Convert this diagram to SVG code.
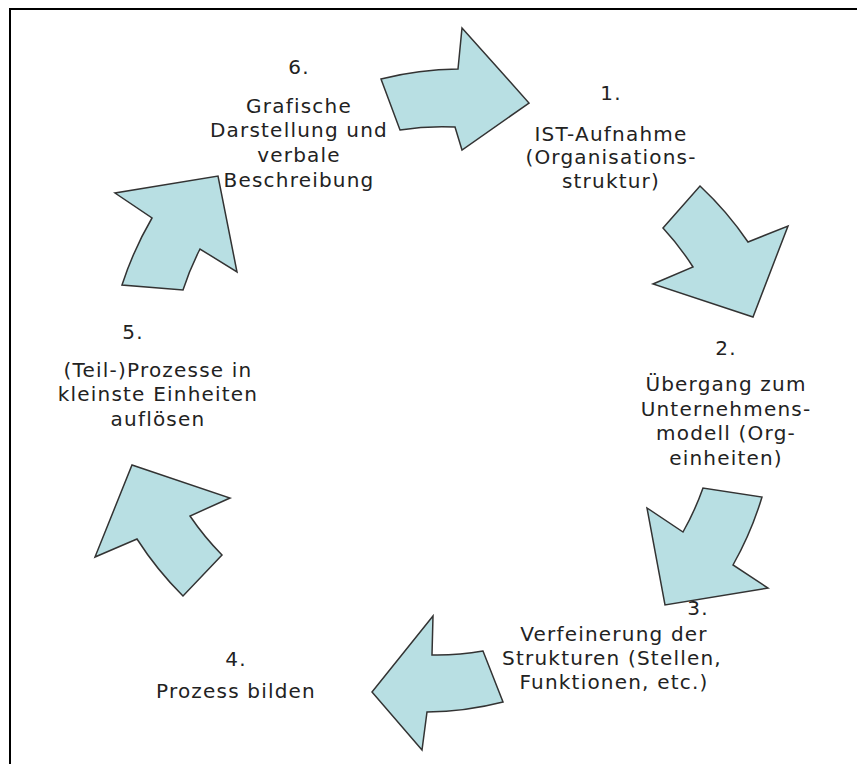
<svg xmlns="http://www.w3.org/2000/svg" width="857" height="764" viewBox="0 0 857 764">
<style>
.arrow{fill:#b8dfe3;stroke:#333;stroke-width:1.5;stroke-linejoin:miter}
.t{font-family:"DejaVu Sans","Liberation Sans",sans-serif;font-size:20px;letter-spacing:1.2px;fill:#222;text-anchor:middle}
</style>
<rect width="857" height="764" fill="#fff"/>
<path d="M9,9 H857 M10,9 V764" stroke="#000" stroke-width="2" fill="none"/>
<g id="connectors">
<path id="a1" class="arrow" d="M381,79 A322,322 0 0 1 458,69 L462,28 L529,103 L462,150 L455,127 A266,266 0 0 0 400,130 Z"/>
<path id="a2" class="arrow" d="M700,186 A330,330 0 0 1 748,242 L788,226 L753,317 L653,284 L693,267 A275,275 0 0 0 663,228 Z"/>
<path id="a3" class="arrow" d="M762,497 A334,334 0 0 1 733,565 L768,588 L665,605 L647,508 L683,532 A276,276 0 0 0 703,488 Z"/>
<path id="a4" class="arrow" d="M503,702 A316,316 0 0 1 427,712 L422,750 L372,692 L433,616 L432,655 A262,262 0 0 0 483,651 Z"/>
<path id="a5" class="arrow" d="M183,596 A336,336 0 0 1 137,539 L95,557 L132,465 L230,498 L190,516 A280,280 0 0 0 222,555 Z"/>
<path id="a6" class="arrow" d="M122,285 A341,341 0 0 1 152,218 L115,193 L218,176 L237,272 L200,249 A283,283 0 0 0 183,290 Z"/>
</g>
<g id="n6">
<text class="t" x="299" y="74">6.</text>
<text class="t" x="299" y="113">Grafische</text>
<text class="t" x="299" y="137">Darstellung und</text>
<text class="t" x="299" y="162">verbale</text>
<text class="t" x="299" y="187">Beschreibung</text>
</g>
<g id="n1">
<text class="t" x="611" y="100">1.</text>
<text class="t" x="611" y="141">IST-Aufnahme</text>
<text class="t" x="611" y="164">(Organisations-</text>
<text class="t" x="611" y="188">struktur)</text>
</g>
<g id="n2">
<text class="t" x="726" y="355">2.</text>
<text class="t" x="726" y="391">Übergang zum</text>
<text class="t" x="726" y="416">Unternehmens-</text>
<text class="t" x="726" y="440">modell (Org-</text>
<text class="t" x="726" y="465">einheiten)</text>
</g>
<g id="n3">
<text class="t" x="698" y="615">3.</text>
<text class="t" x="614" y="641">Verfeinerung der</text>
<text class="t" x="612" y="665">Strukturen (Stellen,</text>
<text class="t" x="614" y="689">Funktionen, etc.)</text>
</g>
<g id="n4">
<text class="t" x="236" y="666">4.</text>
<text class="t" x="236" y="698">Prozess bilden</text>
</g>
<g id="n5">
<text class="t" x="133" y="339">5.</text>
<text class="t" x="158" y="377">(Teil-)Prozesse in</text>
<text class="t" x="158" y="401">kleinste Einheiten</text>
<text class="t" x="158" y="426">auflösen</text>
</g>
</svg>
